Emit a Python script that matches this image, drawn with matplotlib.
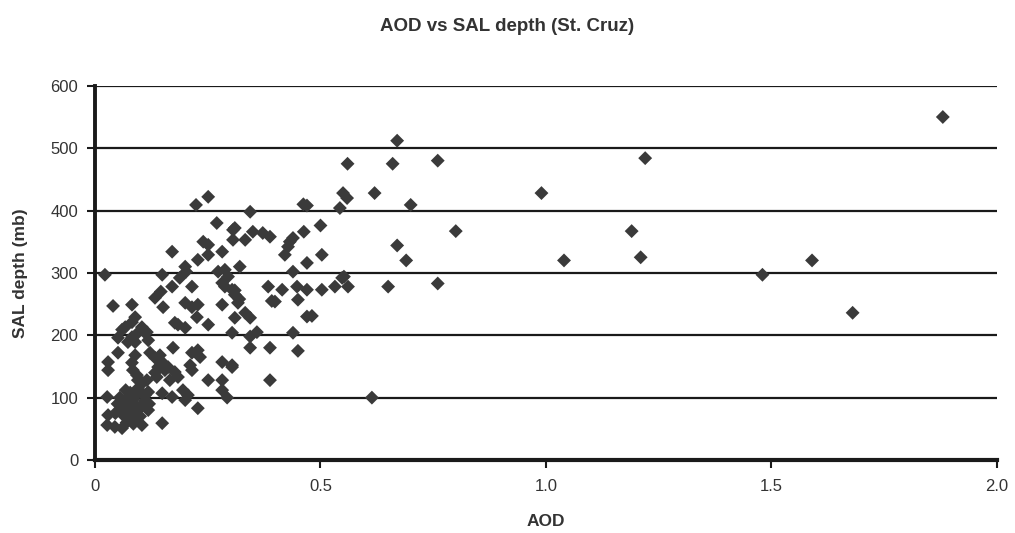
import matplotlib
matplotlib.use("Agg")
import matplotlib.pyplot as plt
from matplotlib.ticker import FixedLocator

plt.rcParams['font.family'] = ['Liberation Sans Narrow', 'Liberation Sans', 'DejaVu Sans']

aod = [
    # outliers / right side
    1.88, 1.22, 0.99, 1.19, 1.21, 1.04, 1.48, 1.59, 1.68, 0.80, 0.76, 0.67, 0.66, 0.62, 0.70, 0.67, 0.69, 0.65, 0.76, 0.614,
    # 0.4 - 0.6
    0.56, 0.55, 0.559, 0.543, 0.462, 0.47, 0.50, 0.463, 0.432, 0.428, 0.421, 0.439, 0.47, 0.503, 0.439, 0.548, 0.552,
    0.384, 0.415, 0.448, 0.47, 0.503, 0.532, 0.561, 0.392, 0.399, 0.45, 0.47, 0.481, 0.439, 0.45,
    # 0.3 - 0.4
    0.344, 0.306, 0.306, 0.333, 0.350, 0.372, 0.388, 0.321, 0.317, 0.333, 0.344, 0.31, 0.304, 0.344, 0.359, 0.344, 0.388,
    0.304, 0.388, 0.31, 0.31, 0.32,
    # 0.2 - 0.3
    0.251, 0.224, 0.27, 0.31, 0.24, 0.251, 0.282, 0.228, 0.251, 0.2, 0.273, 0.288, 0.295, 0.282, 0.288, 0.304, 0.215,
    0.2, 0.215, 0.228, 0.282, 0.226, 0.251, 0.184, 0.2, 0.215, 0.228, 0.233, 0.211, 0.215, 0.282, 0.304, 0.251, 0.282,
    0.282, 0.293, 0.228, 0.195, 0.206, 0.2,
    # 0.1 - 0.2
    0.171, 0.149, 0.188, 0.202, 0.171, 0.146, 0.133, 0.151, 0.177, 0.173, 0.122, 0.133, 0.144, 0.149, 0.14, 0.133, 0.137,
    0.155, 0.162, 0.177, 0.184, 0.166, 0.171, 0.149, 0.118, 0.111, 0.1, 0.149, 0.104, 0.118, 0.104, 0.115, 0.118, 0.111,
    0.106, 0.115,
    # 0 - 0.1
    0.022, 0.082, 0.04, 0.089, 0.082, 0.067, 0.06, 0.095, 0.082, 0.051, 0.073, 0.089, 0.051, 0.089, 0.082, 0.084, 0.093,
    0.095, 0.029, 0.029, 0.027, 0.029, 0.027, 0.044, 0.06,
    0.055, 0.065, 0.075, 0.085, 0.09, 0.07, 0.08, 0.09, 0.06, 0.075, 0.085, 0.095, 0.065, 0.08, 0.09, 0.05, 0.07, 0.085,
    0.1, 0.1, 0.045, 0.078, 0.068, 0.095, 0.11, 0.12,
]

sal = [
    550, 484, 428, 367, 325, 320, 297, 320, 236, 367, 480, 512, 475, 428, 409, 344, 320, 278, 283, 100,
    475, 428, 420, 404, 410, 408, 376, 366, 350, 342, 329, 356, 316, 329, 302, 292, 294,
    278, 273, 278, 273, 273, 278, 278, 255, 254, 257, 230, 231, 204, 175,
    398, 369, 353, 353, 366, 364, 358, 310, 252, 236, 228, 228, 204, 198, 205, 180, 180,
    149, 128, 272, 265, 258,
    422, 409, 380, 372, 350, 345, 334, 321, 329, 310, 302, 305, 294, 284, 278, 273, 278,
    252, 245, 249, 249, 229, 217, 217, 212, 172, 176, 165, 152, 144, 157, 152, 128, 128,
    112, 100, 83, 112, 104, 96,
    334, 297, 292, 302, 278, 270, 260, 245, 220, 180, 172, 164, 168, 157, 149, 140, 133,
    144, 149, 141, 133, 128, 101, 107, 109, 104, 109, 59, 56, 80, 213, 205, 192, 204,
    124, 128,
    297, 249, 247, 229, 221, 213, 209, 204, 197, 196, 189, 189, 172, 168, 156, 144, 136,
    128, 157, 144, 101, 72, 56, 53, 51,
    100, 95, 100, 98, 105, 88, 85, 88, 80, 78, 75, 80, 70, 68, 65, 90, 60, 58,
    85, 70, 75, 108, 112, 115, 95, 90,
]

x_ticks = [0, 0.5, 1.0, 1.5, 2.0]
x_tick_labels = ["0", "0.5", "1.0", "1.5", "2.0"]
y_ticks = [0, 100, 200, 300, 400, 500, 600]

fig = plt.figure(figsize=(10.15, 5.33), dpi=100)
ax = fig.add_axes([0.0936, 0.137, 0.8886, 0.702])

ax.set_xlim(0, 2.0)
ax.set_ylim(0, 600)

for yv in y_ticks[1:]:
    ax.axhline(yv, color="#1a1a1a", lw=1.6, zorder=1)

ax.scatter(aod, sal, marker="D", s=50, color="#3a3a3a", edgecolors="none", zorder=3, clip_on=False)

for s in ["top", "right"]:
    ax.spines[s].set_visible(False)
ax.spines["left"].set_linewidth(2.8)
ax.spines["bottom"].set_linewidth(3.0)
ax.spines["left"].set_color("#1a1a1a")
ax.spines["bottom"].set_color("#1a1a1a")

ax.xaxis.set_major_locator(FixedLocator(x_ticks))
ax.set_xticklabels(x_tick_labels)
ax.yaxis.set_major_locator(FixedLocator(y_ticks))
ax.tick_params(axis="both", direction="out", length=6, width=1.5, colors="#1a1a1a",
               labelsize=12, labelcolor="#333333")
ax.tick_params(axis="x", pad=8)
ax.tick_params(axis="y", pad=6)

ax.set_xlabel("AOD", fontsize=12.5, fontweight="bold", color="#333333", labelpad=14)
ax.set_ylabel("SAL depth (mb)", fontsize=12.5, fontweight="bold", color="#333333", labelpad=16)
fig.text(0.5, 0.95, "AOD vs SAL depth (St. Cruz)", ha="center", va="center",
         fontsize=13.5, fontweight="bold", color="#333333")

fig.savefig("out.png", dpi=100)
